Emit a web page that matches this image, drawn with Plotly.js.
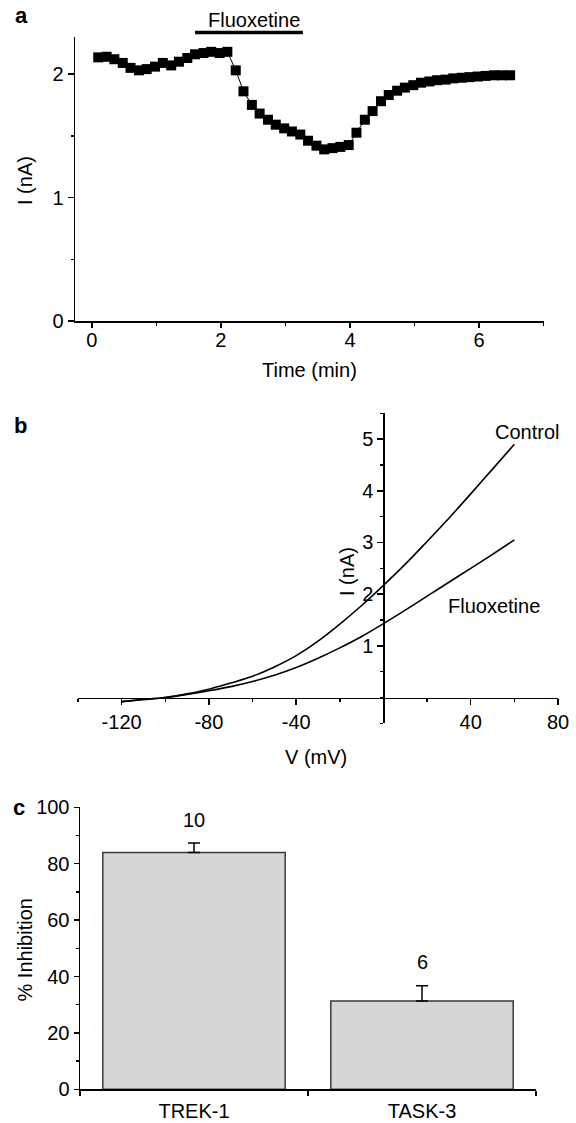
<!DOCTYPE html>
<html>
<head>
<meta charset="utf-8">
<script src="https://cdn.plot.ly/plotly-3.0.1.min.js"></script>
<style>html,body{margin:0;padding:0;background:#fff;}#chart{width:576px;height:1123px;}</style>
</head>
<body>
<div id="chart"></div>
<script>
// ---- Panel a: current vs time ----
var timeMin = [0.10,0.23,0.35,0.48,0.60,0.73,0.85,0.98,1.10,1.23,1.35,1.48,1.60,1.73,1.85,1.98,2.10,2.23,2.35,2.48,2.60,2.73,2.85,2.98,3.10,3.23,3.35,3.48,3.60,3.73,3.85,3.98,4.10,4.23,4.35,4.48,4.60,4.73,4.85,4.98,5.10,5.23,5.35,5.48,5.60,5.73,5.85,5.98,6.10,6.23,6.35,6.48];
var currentNA = [2.135,2.14,2.12,2.09,2.05,2.03,2.04,2.06,2.09,2.07,2.10,2.13,2.16,2.17,2.18,2.17,2.18,2.03,1.86,1.75,1.68,1.63,1.59,1.56,1.535,1.51,1.46,1.42,1.39,1.40,1.41,1.425,1.525,1.63,1.70,1.78,1.83,1.865,1.89,1.91,1.93,1.94,1.95,1.955,1.965,1.97,1.975,1.98,1.985,1.99,1.99,1.99];
var drugPeriod = [1.6, 3.27];
var drugName = "Fluoxetine";

// ---- Panel b: I-V curves ----
var voltageMV = [-120,-110,-100,-90,-80,-70,-60,-50,-40,-30,-20,-10,0,10,20,30,40,50,60];
var controlNA = [-0.08,-0.04,0.0,0.07,0.16,0.28,0.41,0.59,0.81,1.09,1.42,1.78,2.17,2.58,3.02,3.47,3.94,4.42,4.90];
var fluoxNA   = [-0.08,-0.04,0.0,0.06,0.13,0.21,0.31,0.43,0.58,0.76,0.96,1.18,1.43,1.69,1.96,2.23,2.50,2.77,3.05];
var curveNames = ["Control", "Fluoxetine"];
var ivTickVals = [-120, -80, -40, 40, 80];
var ivTickText = ["-120", "-80", "-40", "40", "80"];

// ---- Panel c: % inhibition ----
var channels = ["TREK-1", "TASK-3"];
var inhibition = [84, 31.3];
var inhibitionErr = [3.3, 5.4];
var nCells = ["10", "6"];

var FONT = "Liberation Sans, Arial, Helvetica, sans-serif";
var FS = 20;

var traces = [
  { x: timeMin, y: currentNA, xaxis: "x", yaxis: "y", type: "scatter", mode: "lines+markers",
    line: {color: "#000", width: 1}, marker: {symbol: "square", size: 10, color: "#000"}, hoverinfo: "skip" },
  { x: drugPeriod, y: [0.35, 0.35], xaxis: "x", yaxis: "y4", type: "scatter", mode: "lines",
    line: {color: "#000", width: 3.5}, hoverinfo: "skip" },
  { x: voltageMV, y: controlNA, xaxis: "x2", yaxis: "y2", type: "scatter", mode: "lines",
    line: {color: "#000", width: 1.6, shape: "spline", smoothing: 1}, name: curveNames[0] },
  { x: voltageMV, y: fluoxNA, xaxis: "x2", yaxis: "y2", type: "scatter", mode: "lines",
    line: {color: "#000", width: 1.6, shape: "spline", smoothing: 1}, name: curveNames[1] },
  { x: channels, y: inhibition, xaxis: "x3", yaxis: "y3", type: "bar", width: 0.8,
    marker: {color: "#d6d6d6", line: {color: "#3a3a3a", width: 1.5}},
    error_y: {type: "data", array: inhibitionErr, arrayminus: [0, 0], symmetric: false, color: "#000", thickness: 1.5, width: 6} }
];

function px2x(p){ return p/576; }
function py2y(p){ return 1 - p/1123; }

var tickfont = {family: FONT, size: FS, color: "#000"};
var baseAxis = {showline: true, linecolor: "#000", linewidth: 1.5, ticks: "outside", ticklen: 6, tickwidth: 1.5,
  tickcolor: "#000", showgrid: false, zeroline: false, tickfont: tickfont, fixedrange: true};

function ax(o){ return Object.assign({}, baseAxis, o); }

var annotations = [
  {text: "<b>a</b>", x: px2x(21), y: py2y(15)},
  {text: "<b>b</b>", x: px2x(20), y: py2y(425)},
  {text: "<b>c</b>", x: px2x(19), y: py2y(807)},
  {text: "I (nA)", x: px2x(25), y: py2y(181), textangle: -90},
  {text: "Time (min)", x: px2x(309), y: py2y(370)},
  {text: "V (mV)", x: px2x(316), y: py2y(757)},
  {text: "I (nA)", x: px2x(347), y: py2y(572), textangle: -90},
  {text: "% Inhibition", x: px2x(24.5), y: py2y(950), textangle: -90}
].map(function(a){
  return Object.assign({xref: "paper", yref: "paper", showarrow: false, xanchor: "center", yanchor: "middle",
    font: {family: FONT, size: a.text.indexOf("<b>") === 0 ? 22 : FS, color: "#000"}}, a);
});
annotations.push({text: drugName, xref: "x", yref: "paper", x: (drugPeriod[0] + drugPeriod[1]) / 2 + 0.07, y: py2y(19.5),
  showarrow: false, xanchor: "center", yanchor: "middle", font: {family: FONT, size: FS, color: "#000"}});
annotations.push({text: curveNames[0], xref: "x2", yref: "y2", x: 65.7, y: 5.13, showarrow: false,
  xanchor: "center", yanchor: "middle", font: {family: FONT, size: FS, color: "#000"}});
annotations.push({text: curveNames[1], xref: "x2", yref: "y2", x: 50.8, y: 1.77, showarrow: false,
  xanchor: "center", yanchor: "middle", font: {family: FONT, size: FS, color: "#000"}});
for (var i = 0; i < channels.length; i++) {
  annotations.push({text: nCells[i], xref: "x3", yref: "y3", x: channels[i], y: inhibition[i] + inhibitionErr[i] + 8.3,
    showarrow: false, xanchor: "center", yanchor: "middle", font: {family: FONT, size: FS, color: "#000"}});
}

var layout = {
  width: 576, height: 1123, margin: {l: 0, r: 0, t: 0, b: 0}, paper_bgcolor: "#fff", plot_bgcolor: "rgba(0,0,0,0)",
  showlegend: false, font: {family: FONT, size: FS, color: "#000"},
  xaxis: ax({domain: [px2x(75), px2x(544)], anchor: "y", range: [-0.26, 7.005], tickmode: "linear", tick0: 0, dtick: 2,
    ticklen: 5, ticklabelstandoff: -5,
    minor: {ticks: "outside", ticklen: 3, dtick: 1, tick0: 0, tickwidth: 1.5, tickcolor: "#000"}}),
  yaxis: ax({domain: [py2y(321), py2y(37)], anchor: "x", range: [0, 2.3], tickmode: "linear", tick0: 0, dtick: 1,
    minor: {ticks: "outside", ticklen: 3, dtick: 0.5, tick0: 0, tickwidth: 1.5, tickcolor: "#000"}}),
  yaxis4: {domain: [py2y(50), 1], anchor: "x", range: [0, 1], visible: false, fixedrange: true},
  xaxis2: ax({domain: [px2x(78), px2x(558)], anchor: "free", position: py2y(697.5), range: [-140, 80],
    tickmode: "array", tickvals: ivTickVals, ticktext: ivTickText,
    minor: {ticks: "outside", ticklen: 3, dtick: 20, tick0: 0, tickwidth: 1.5, tickcolor: "#000"}}),
  yaxis2: ax({domain: [py2y(723.3), py2y(413.3)], anchor: "free", position: px2x(383.3), range: [-0.5, 5.5],
    tickmode: "array", tickvals: [1, 2, 3, 4, 5],
    minor: {ticks: "outside", ticklen: 3, dtick: 0.5, tick0: 0, tickwidth: 1.5, tickcolor: "#000"}}),
  xaxis3: ax({domain: [px2x(80), px2x(536)], anchor: "y3", type: "category", range: [-0.5, 1.5], tickson: "boundaries",
    ticklen: 5, ticklabelstandoff: 3}),
  yaxis3: ax({domain: [py2y(1089.3), py2y(807.3)], anchor: "x3", range: [0, 100], tickmode: "linear", tick0: 0, dtick: 20,
    ticklen: 5, minor: {ticks: "outside", ticklen: 3, dtick: 10, tick0: 0, tickwidth: 1.5, tickcolor: "#000"}}),
  annotations: annotations
};

Plotly.newPlot("chart", traces, layout, {staticPlot: true, displayModeBar: false});
</script>
</body>
</html>
